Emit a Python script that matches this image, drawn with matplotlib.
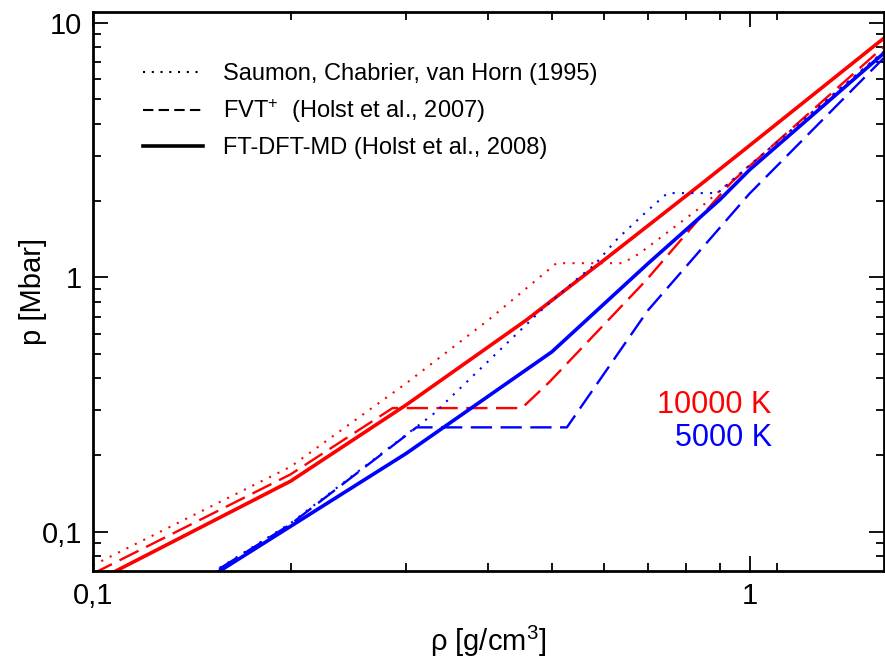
import matplotlib
matplotlib.use("Agg")
import matplotlib.pyplot as plt
from matplotlib.lines import Line2D
from matplotlib.ticker import FixedLocator, FuncFormatter, NullFormatter

plt.rcParams['font.family'] = ['Liberation Sans Narrow', 'Liberation Sans', 'DejaVu Sans']
plt.rcParams['mathtext.default'] = 'regular'

# ---- data (density in g/cm^3, pressure in Mbar) ----
rho_scvh_10k = [0.1, 0.2, 0.3, 0.4, 0.508, 0.641, 0.68, 0.844, 0.959, 1.6]
p_scvh_10k   = [0.0738, 0.18, 0.383, 0.678, 1.135, 1.135, 1.24, 1.89, 2.51, 7.68]

rho_fvt_10k = [0.1, 0.2, 0.286, 0.45, 0.496, 0.696, 0.869, 0.94, 1.6]
p_fvt_10k   = [0.0684, 0.168, 0.306, 0.306, 0.388, 0.973, 1.89, 2.37, 8.03]

rho_dft_10k = [0.1, 0.2, 0.3, 0.457, 0.6, 0.84, 1.0, 1.6]
p_dft_10k   = [0.063, 0.158, 0.315, 0.678, 1.166, 2.30, 3.29, 8.67]

rho_scvh_5k = [0.1, 0.2, 0.28, 0.33, 0.48, 0.55, 0.58, 0.63, 0.70, 0.75, 0.894, 1.0, 1.6]
p_scvh_5k   = [0.035, 0.108, 0.21, 0.29, 0.735, 1.0, 1.115, 1.42, 1.83, 2.14, 2.14, 2.75, 7.7]

rho_fvt_5k = [0.1, 0.2, 0.311, 0.527, 0.7, 1.0, 1.6]
p_fvt_5k   = [0.035, 0.107, 0.257, 0.257, 0.74, 2.13, 7.25]

rho_dft_5k = [0.1, 0.3, 0.5, 0.7, 0.9, 1.0, 1.6]
p_dft_5k   = [0.034, 0.203, 0.509, 1.13, 2.01, 2.64, 7.57]

legend_labels = ['Saumon, Chabrier, van Horn (1995)',
                 'FVT$^{+}$  (Holst et al., 2007)',
                 'FT-DFT-MD (Holst et al., 2008)']
temp_labels = ['10000 K', '5000 K']

RED = '#ff0000'
BLUE = '#0000ff'

fig = plt.figure(figsize=(8.85, 6.62), dpi=100)
ax = fig.add_axes([0.105, 0.1375, 0.894, 0.8445])
ax.set_xscale('log')
ax.set_yscale('log')

dot = (0, (1, 3.5))
dash = (0, (9.0, 3.6))

ax.plot(rho_scvh_10k, p_scvh_10k, color=RED, lw=1.5, linestyle=dot)
ax.plot(rho_fvt_10k, p_fvt_10k, color=RED, lw=1.7, linestyle=dash)
ax.plot(rho_dft_10k, p_dft_10k, color=RED, lw=2.6, linestyle='-')
ax.plot(rho_scvh_5k, p_scvh_5k, color=BLUE, lw=1.5, linestyle=dot)
ax.plot(rho_fvt_5k, p_fvt_5k, color=BLUE, lw=1.7, linestyle=dash)
ax.plot(rho_dft_5k, p_dft_5k, color=BLUE, lw=2.6, linestyle='-')

ax.set_xlim(0.1, 1.603)
ax.set_ylim(0.0701, 11.02)

def fmt(v, pos):
    s = ('%g' % v).replace('.', ',')
    return s

ax.xaxis.set_major_locator(FixedLocator([0.1, 1]))
ax.xaxis.set_minor_locator(FixedLocator([0.2, 0.3, 0.4, 0.5, 0.6, 0.7, 0.8, 0.9, 1.1]))
ax.yaxis.set_major_locator(FixedLocator([0.1, 1, 10]))
ax.yaxis.set_minor_locator(FixedLocator([0.08, 0.09, 0.2, 0.3, 0.4, 0.5, 0.6, 0.7, 0.8, 0.9,
                                         2, 3, 4, 5, 6, 7, 8, 9]))
ax.xaxis.set_major_formatter(FuncFormatter(fmt))
ax.yaxis.set_major_formatter(FuncFormatter(fmt))
ax.xaxis.set_minor_formatter(NullFormatter())
ax.yaxis.set_minor_formatter(NullFormatter())

ax.tick_params(which='both', direction='in', top=True, right=True, width=1.3,
               labelsize=21, pad=8)
ax.tick_params(which='major', length=11)
ax.tick_params(which='minor', length=5.5)
for sp in ax.spines.values():
    sp.set_linewidth(2)

ax.set_xlabel(r'ρ [g/cm$^{3}$]', fontsize=21, labelpad=10)
ax.set_ylabel('p [Mbar]', fontsize=21, labelpad=-4)

handles = [Line2D([], [], color='black', lw=1.5, linestyle=(0, (1, 3.2))),
           Line2D([], [], color='black', lw=1.5, linestyle=(0, (5, 2.5))),
           Line2D([], [], color='black', lw=2.6, linestyle='-')]
ax.legend(handles, legend_labels, loc='upper left', bbox_to_anchor=(0.051, 0.925),
          frameon=False, fontsize=17, handlelength=2.55, handletextpad=0.85,
          labelspacing=0.51, borderaxespad=0)

ax.text(0.858, 0.297, temp_labels[0], transform=ax.transAxes, color=RED,
        fontsize=22, ha='right', va='center')
ax.text(0.858, 0.238, temp_labels[1], transform=ax.transAxes, color=BLUE,
        fontsize=22, ha='right', va='center')

fig.savefig('out.png', dpi=100)
